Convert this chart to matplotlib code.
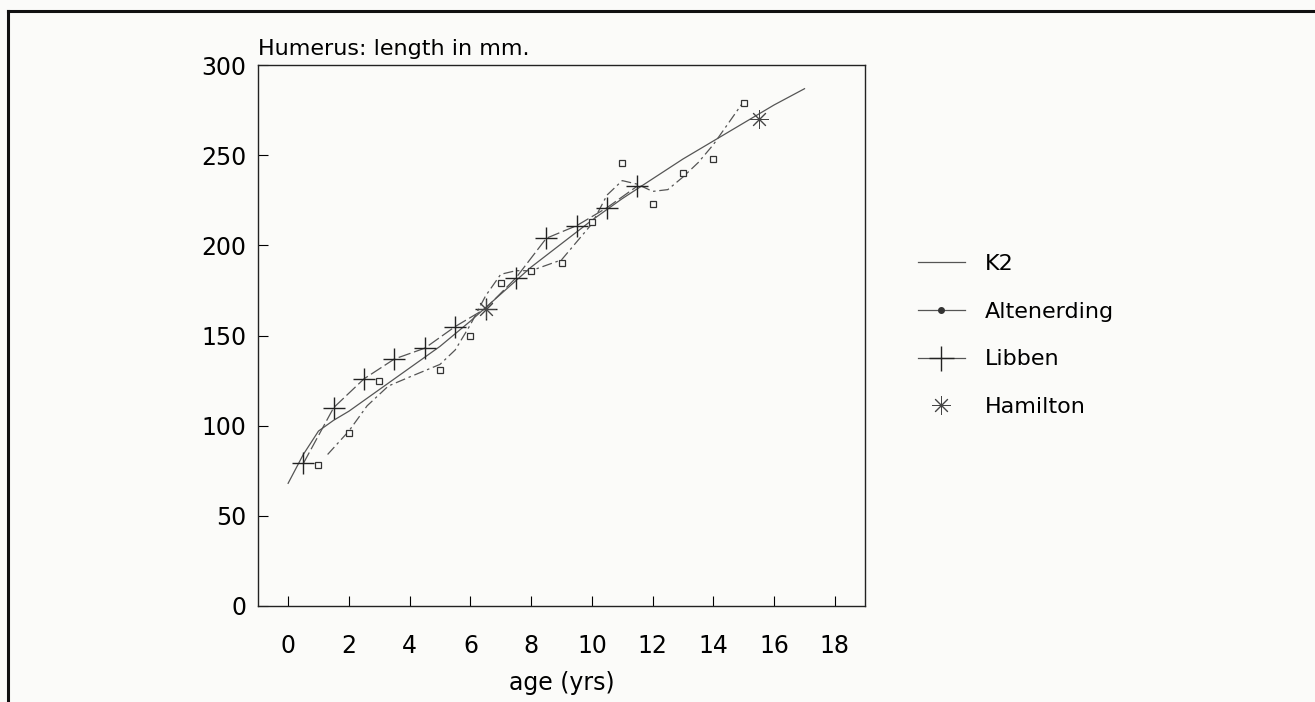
import matplotlib
matplotlib.use("Agg")
import matplotlib.pyplot as plt
from matplotlib.lines import Line2D

plt.rcParams['font.family'] = ['DejaVu Sans']

# K2 curve
k2_age = [0, 0.5, 1, 1.5, 2, 3, 4, 5, 6, 7, 8, 9, 10, 11, 12, 13, 14, 15, 16, 17]
k2_len = [68, 84, 97, 103, 108, 120, 132, 144, 158, 173, 188, 201, 214, 226, 237, 248, 258, 268, 278, 287]

# Altenerding smoothed curve and raw points
alt_curve_age = [1.3, 2, 2.6, 3.3, 4, 5, 5.5, 6, 6.5, 7, 7.5, 8, 9, 10, 10.5, 11, 11.5, 12, 12.5, 13, 13.5, 14, 14.5, 15]
alt_curve_len = [84, 97, 111, 122, 127, 134, 142, 156, 172, 184, 186, 186, 192, 212, 228, 236, 234, 230, 231, 238, 246, 256, 268, 280]
alt_age = [1, 2, 3, 5, 6, 7, 8, 9, 10, 11, 12, 13, 14, 15]
alt_len = [78, 96, 125, 131, 150, 179, 186, 190, 213, 246, 223, 240, 248, 279]

# Libben
lib_age = [0.5, 1.5, 2.5, 3.5, 4.5, 5.5, 6.5, 7.5, 8.5, 9.5, 10.5, 11.5]
lib_len = [79, 110, 126, 137, 143, 155, 165, 182, 204, 211, 221, 233]

# Hamilton
ham_age = [6.5, 15.5]
ham_len = [165, 270]

x_ticks = list(range(0, 19, 2))
y_ticks = list(range(0, 301, 50))

fig = plt.figure(figsize=(13.15, 7.02), dpi=100)
fig.patch.set_facecolor('#fbfbf9')
ax = fig.add_axes([0.196, 0.137, 0.462, 0.770])
ax.set_facecolor('#fbfbf9')

grey = '#555555'
ax.plot(k2_age, k2_len, color=grey, lw=0.9)
ax.plot(alt_curve_age, alt_curve_len, color=grey, lw=0.9, ls=(0, (8, 3, 2, 3)))
ax.plot(alt_age, alt_len, ls='none', marker='s', ms=4.5, mfc='#fbfbf9', mec='#333333', mew=0.9)
ax.plot(lib_age, lib_len, color=grey, lw=0.9, ls=(0, (10, 3)), marker='+', ms=16, mec='#222222', mew=1.0)
ax.plot(ham_age, ham_len, ls='none', marker=(8, 2, 0), ms=13, mec='#444444', mew=0.7)

ax.set_xlim(-1, 19)
ax.set_ylim(0, 300)
ax.set_xticks(x_ticks)
ax.set_yticks(y_ticks)
ax.tick_params(axis='both', direction='in', length=7, width=0.8, labelsize=17)
ax.tick_params(axis='x', pad=20)
ax.tick_params(axis='y', pad=8)
for s in ax.spines.values():
    s.set_linewidth(1.0)
    s.set_color('#222222')
ax.set_xlabel('age (yrs)', fontsize=17, labelpad=10)
ax.text(0.0, 1.012, 'Humerus: length in mm.', transform=ax.transAxes, fontsize=16, ha='left', va='bottom')

handles = [
    Line2D([], [], color=grey, lw=0.9),
    Line2D([], [], color=grey, lw=0.9, marker='o', ms=4, mfc='#333333', mec='#333333'),
    Line2D([], [], color=grey, lw=0.9, marker='+', ms=18, mec='#222222', mew=1.0),
    Line2D([], [], ls='none', marker=(8, 2, 0), ms=13, mec='#444444', mew=0.7),
]
labels = ['K2', 'Altenerding', 'Libben', 'Hamilton']
fig.legend(handles, labels, loc='upper left', bbox_to_anchor=(0.683, 0.667), frameon=False,
           fontsize=16, handlelength=2.1, labelspacing=1.25, handletextpad=0.9)

# outer frame (left and top edges of the scanned page)
fig.add_artist(Line2D([0.006, 0.006], [0.0, 0.984], color='#111111', lw=2.2, transform=fig.transFigure))
fig.add_artist(Line2D([0.006, 1.0], [0.984, 0.984], color='#111111', lw=2.2, transform=fig.transFigure))

fig.savefig('out.png', dpi=100, facecolor=fig.get_facecolor())
